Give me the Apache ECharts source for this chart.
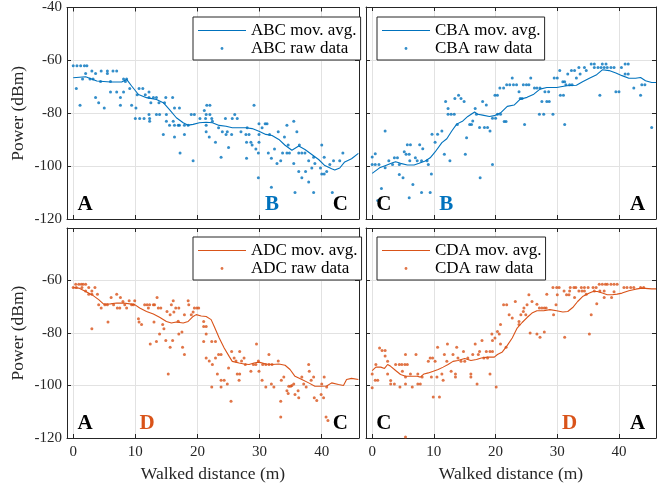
<!DOCTYPE html>
<html>
<head>
<meta charset="utf-8">
<script src="https://cdn.jsdelivr.net/npm/echarts@6/dist/echarts.min.js"></script>
<style>html,body{margin:0;padding:0;background:#fff}#c{width:657px;height:493px}</style>
</head>
<body>
<div id="c"></div>
<script>
// ---------- data ----------
const xTicks = [0, 10, 20, 30, 40];
const yTicks = [-120, -100, -80, -60, -40];

const abcAvg = [[0,-66.6],[2,-66.2],[3.8,-67.8],[6,-68.2],[7.8,-68.2],[8.6,-67.2],[9.4,-69.7],[10.5,-72.9],[11.8,-74.1],[13.4,-74.8],[14.5,-76],[15.5,-78.6],[16.6,-81.7],[17.7,-83.6],[18.5,-84.5],[19.3,-84.2],[20.3,-83.6],[21.4,-83.4],[22.4,-83.6],[23.5,-84.6],[24.6,-84.9],[25.6,-85.5],[26.7,-85.5],[27.8,-85.5],[28.8,-85.8],[29.9,-86.8],[31,-88],[32,-88.4],[33.1,-89.9],[34.1,-92.1],[35.2,-94],[36.3,-92.4],[37.3,-93.7],[38.4,-95.6],[39.5,-97.5],[40.5,-99.8],[41.6,-101],[42.1,-101.5],[42.9,-100.7],[43.7,-98.4],[44.8,-97.2],[45.9,-95.2]];
const abcRaw = [[0,-62],[0.6,-62],[1.2,-62],[1.8,-62],[2.2,-62],[0.5,-70.6],[1.1,-77],[1.5,-67],[2,-65],[2.7,-67],[3,-64],[3.2,-67],[3.6,-65],[3.6,-74],[4.1,-76],[4.4,-68],[4.5,-64],[5,-78],[5.5,-64],[5.5,-65],[6,-68],[6,-72],[6.4,-64],[7,-64],[7,-72],[7.6,-74],[7.6,-77],[8.1,-72],[8.1,-67],[8.4,-68],[8.6,-67],[9.1,-70.6],[9.4,-77],[10,-82],[10.1,-78],[10.3,-73],[10.6,-70.6],[10.7,-82],[11.2,-70.6],[11.4,-82],[11.6,-73],[12.2,-72],[12.3,-82],[12.2,-80.5],[12.3,-83],[12.2,-74],[12.5,-76],[12.9,-74],[13.4,-74],[13.4,-80.5],[13.9,-80.5],[13.8,-76],[14.5,-88],[14.9,-74],[14.7,-76],[15,-80.5],[15,-83],[15.5,-84.5],[16,-74],[16.1,-83],[16.3,-78],[16.3,-84.5],[16.3,-89],[16.9,-84.5],[17.1,-78],[17.2,-95],[17.1,-84.5],[17.9,-84.5],[17.9,-88],[18.5,-84.5],[19,-80.5],[19.3,-98],[19.5,-80.5],[20.4,-82],[21.1,-79],[21.4,-80.5],[21.3,-82],[21.4,-84.5],[21.4,-87],[21.5,-77],[21.9,-89],[22,-77],[22,-80.5],[22.3,-82],[22.4,-83],[22.9,-91],[23.4,-85.5],[23.8,-96.6],[24,-87],[24.5,-82],[24.6,-88],[24.8,-87],[25,-93],[25.5,-88],[25.6,-82],[26,-80.5],[26.4,-82],[27,-87],[27.8,-88],[28,-85.5],[27.9,-91],[27.9,-97],[28.3,-88],[28.6,-91],[29.1,-77],[28.8,-92],[29.4,-93.5],[29.8,-95],[29.8,-104.4],[29.9,-84],[29.9,-88],[29.9,-91],[30.4,-85.5],[30.9,-84],[31.2,-84],[31.6,-88],[31.4,-95],[31.9,-97],[31.9,-108],[32.4,-93.5],[32.8,-99],[33,-87],[33.4,-98],[34,-89],[33.7,-95],[34.4,-84.5],[34.4,-95],[34.6,-92],[34.8,-95],[35.5,-83],[35.5,-99],[35.7,-110],[36,-87],[36.3,-95],[36.4,-92],[36.3,-102],[36.8,-95],[36.8,-104.4],[37.3,-95],[37.4,-102],[37.9,-106],[37.9,-98],[38.7,-96.6],[38.7,-110],[38.4,-100.7],[38.9,-99],[40,-92],[39.8,-100.7],[40,-103],[40.4,-96.6],[40.4,-103],[40.8,-102],[41.3,-99.4],[41.7,-110],[41.9,-98],[42.9,-98],[43.4,-95]];

const cbaAvg = [[0,-102.8],[1.2,-100.7],[2.2,-99.8],[3.3,-98.8],[3.8,-98.4],[4.6,-99],[5.7,-99.6],[6.8,-99.6],[7.6,-99],[8.6,-98.1],[9.4,-96.9],[10.2,-94.7],[11.3,-91.2],[12.1,-89.7],[12.9,-86.8],[13.7,-84.2],[14.7,-83],[15.5,-81.3],[16.6,-79.6],[17.1,-80.5],[17.9,-80.8],[19,-81.3],[19.8,-81],[20.9,-79.8],[21.9,-77.5],[23,-77],[24,-74.8],[25.1,-74.1],[26.2,-72.9],[27.2,-71],[28.3,-70.4],[29.9,-70.4],[31.5,-69.7],[33.1,-69.5],[34.1,-68.2],[35.2,-66.9],[36.3,-65.7],[37.3,-63.7],[38.4,-64],[39.5,-64.9],[40.5,-65.9],[41.6,-66.9],[42.7,-66.9],[43.5,-66.6],[44.3,-67.8],[45.3,-68.5],[46,-68.5]];
const cbaRaw = [[0,-96.6],[0.5,-95.4],[0,-99.4],[0.5,-99.4],[1.1,-99.4],[0.9,-113],[1.5,-108.5],[2.1,-86.8],[2.1,-100.7],[2.7,-98],[3.3,-99.4],[3.6,-96.9],[4.1,-96.9],[4.4,-99.4],[4.4,-103.2],[5,-104.4],[5.2,-94.6],[5.5,-95.6],[5.7,-92],[6,-95.6],[6.2,-92],[6,-112],[6.1,-98],[6.6,-107],[7,-96.9],[7.3,-98],[7.7,-92],[8,-110],[8,-98],[8.2,-93.5],[8.9,-98],[9.1,-99.4],[9.4,-110],[9.6,-103],[9.7,-88],[10.2,-91],[10.6,-88],[11.3,-86.8],[11.7,-95.6],[11.9,-75.7],[12.3,-78.3],[12.3,-80.5],[12.6,-98],[12.8,-80.5],[13.3,-80.5],[13.4,-74.5],[13.8,-84.3],[14,-73.3],[14.4,-74.5],[14.9,-75.7],[15.1,-95.6],[15.3,-89.3],[15.8,-84.3],[16.1,-84.3],[16.3,-83],[16.7,-78.3],[16.9,-80.5],[17.5,-104.4],[17.4,-85.5],[17.9,-75.7],[18.2,-85.5],[18.5,-77],[18.7,-85.5],[19.1,-86.8],[19.5,-82],[19.5,-99.4],[19.9,-73.3],[20,-82],[20.3,-73.3],[20.3,-80.5],[20.8,-80.5],[20.7,-70.6],[21.3,-70.6],[21.4,-83.2],[21.7,-83.2],[21.8,-69.3],[22.3,-69.3],[22.7,-66.8],[22.9,-69.3],[23.4,-69.3],[23.8,-72],[24,-74.5],[24.3,-74.5],[24.5,-69.3],[24.7,-84.3],[25,-69.3],[25.4,-69.3],[25.7,-66.8],[26.3,-70.6],[26.7,-70.6],[27.2,-70.6],[27.1,-80.5],[27.5,-75.7],[27.8,-80.5],[28.3,-75.7],[28,-72],[28.6,-72],[28.7,-75.7],[29.3,-80.5],[29.5,-66.8],[30,-66.8],[30.4,-64],[30.5,-73.3],[30.9,-68.2],[31,-73.3],[31.2,-84.3],[31.2,-68.2],[31.4,-69.3],[31.7,-65.3],[32,-69.3],[32.3,-64],[32.4,-69.3],[32.8,-64],[33.1,-66.8],[33.5,-62.8],[33.7,-65.3],[34.4,-62.8],[34.7,-64],[35.5,-61.5],[36,-61.5],[36,-62.8],[36.6,-62.8],[36.9,-73.3],[37.1,-62.8],[37.3,-61.5],[37.6,-62.8],[37.9,-61.5],[38.1,-62.8],[38.7,-62.8],[39.2,-62.8],[39.5,-72],[40,-72],[40.4,-62.8],[41,-61.5],[41,-65.3],[41.5,-61.5],[41.5,-65.3],[42.4,-70.6],[43.5,-73.3],[43.7,-69.3],[44.2,-69.3],[45.3,-85.5]];

const adcAvg = [[0,-62.7],[0.9,-62.9],[2,-64.2],[3,-65.4],[4.1,-67.3],[4.9,-69],[6,-68.9],[7,-68.6],[8.1,-68.6],[9.1,-68.9],[9.9,-69.2],[10.7,-70.5],[11.8,-71.8],[12.9,-72.8],[13.9,-74],[15,-75.6],[15.8,-76.2],[16.6,-75.8],[17.7,-76.2],[18.5,-75.6],[19.3,-73.7],[19.8,-73],[20.6,-73.5],[21.4,-73.7],[22.2,-74.9],[22.7,-77.5],[23.5,-81.9],[24.3,-85.7],[25.1,-88.9],[25.6,-90.8],[26.7,-91.4],[27.5,-91.8],[28.3,-92],[29.1,-91.4],[29.9,-91.1],[31,-91.8],[32,-92],[33.1,-91.8],[34.1,-92.3],[34.9,-93.9],[35.7,-96.5],[36.8,-97.7],[37.9,-99],[38.9,-100.3],[40,-100.3],[40.8,-100.2],[41.6,-99],[42.7,-99.6],[43.5,-100],[44,-97.7],[44.8,-97.3],[45.9,-97.7]];
const adcRaw = [[0,-62.7],[0.4,-61.4],[0.9,-61.4],[1.3,-61.4],[1.6,-61.4],[2,-61.4],[0.5,-62.7],[1.4,-62.7],[2,-64],[2.5,-65.2],[2.5,-62.7],[3,-64],[3,-65.2],[3,-78.4],[3.5,-62.7],[3.9,-65.2],[4.1,-69.2],[4.5,-70.5],[5.1,-69.2],[5.5,-69.2],[5.6,-75.8],[6.1,-66.5],[6.5,-69.2],[7,-65.2],[7.1,-70.5],[7.5,-70.5],[7.6,-66.5],[8,-68],[8.3,-69.2],[8.6,-70.5],[9,-67.7],[9.4,-69.2],[9.7,-69.2],[9.9,-67.7],[10.5,-74.6],[10.6,-75.8],[11,-76.8],[11.5,-69.2],[11.9,-69.2],[12.3,-69.2],[12.1,-70.5],[12.4,-84.2],[12.9,-69.2],[13,-75.8],[13.1,-69.2],[13.4,-83.2],[13.5,-66.5],[13.7,-70.5],[14.1,-70.5],[13.9,-80.4],[14.4,-76.8],[14.6,-78.4],[14.9,-82.9],[15.1,-71.8],[15.3,-95.6],[15.6,-85.4],[15.6,-73],[15.8,-69.2],[16,-82.9],[16.1,-67.7],[16.2,-72],[16.5,-70.5],[17,-70.5],[16.9,-75.5],[17,-80.4],[17.5,-79.6],[17.6,-85.4],[17.9,-73],[17.9,-88.2],[18.5,-67.7],[18.6,-69.2],[19,-73],[19.3,-72],[19.5,-70.5],[19.9,-70.5],[20.2,-70.5],[21,-75.6],[21,-77.5],[21.4,-77.5],[21,-83.2],[21.4,-80.4],[21.4,-89.5],[21.9,-90.7],[22.3,-83.2],[22.9,-83.2],[22.4,-92],[22.3,-100.6],[22.9,-89.5],[23.4,-88.2],[23.8,-88.2],[23.2,-95.6],[23.8,-98],[24.3,-98],[23.8,-100.6],[24.8,-99.4],[25,-93.3],[25.4,-106],[25.5,-87],[25.9,-89.5],[26.2,-90.7],[26.4,-95.6],[26.8,-95.6],[26.7,-98],[26.8,-87],[27.1,-90.7],[27.5,-89.5],[27.7,-92],[28.6,-94.6],[29,-92],[29.4,-92],[29.5,-84.2],[29.8,-90.7],[29.9,-94.6],[30.4,-98],[30.5,-92],[31,-92],[31,-100.6],[31.5,-92],[31.5,-88.2],[31.9,-99.4],[32,-92],[32.3,-100.6],[33,-90.7],[33.4,-106],[33.4,-112],[33.5,-98],[33.9,-96.8],[34.4,-102],[34.6,-103],[34.7,-100.3],[35,-100.3],[35.2,-100],[35.5,-99.4],[35.7,-103.4],[36.2,-102],[36.3,-104.7],[36.8,-96.8],[37.1,-99.4],[37.5,-100.6],[37.9,-92],[38,-94.6],[38.3,-98],[38.7,-96.8],[38.8,-104.7],[39.2,-105.7],[39.9,-103.4],[40,-99.4],[40.3,-104.7],[40.4,-96.8],[40.7,-112],[41,-113.3],[40.8,-100.6]];

const cdaAvg = [[0,-94.3],[0.6,-93],[1.4,-93],[2,-93.5],[2.5,-92],[3,-92.7],[3.8,-94.3],[4.6,-95.8],[5.4,-96.5],[6.5,-96.5],[7.3,-96.5],[7.8,-96.8],[8.4,-95.6],[9.1,-95.2],[9.9,-94.6],[10.7,-93.9],[11.5,-93],[12.3,-92],[13.1,-90.8],[13.9,-90.5],[15,-89.7],[16,-90.5],[16.9,-90.1],[17.7,-89.5],[18.7,-89.2],[19.8,-89.2],[20.3,-88.2],[21.1,-87.2],[21.9,-84.7],[22.7,-81.9],[23.5,-78.1],[24.3,-76],[25.1,-74.1],[25.9,-72.4],[26.7,-71.5],[27.8,-71.5],[28.8,-71.1],[29.9,-71.5],[30.9,-72],[31.7,-71.8],[32.5,-70.3],[33.3,-68],[34.1,-66.1],[35.2,-64.8],[35.8,-64.2],[36.5,-64.2],[37.3,-64.8],[38.1,-65.4],[38.9,-65.4],[39.7,-65.2],[40.5,-64.8],[41.6,-63.9],[42.7,-63.3],[43.7,-62.9],[45.3,-63.2],[46,-63.2]];
const cdaRaw = [[0,-95.6],[0,-100.9],[0.5,-98],[0.9,-98],[0.6,-92],[1.2,-85.7],[1.6,-86.7],[2.1,-86.7],[2.1,-88.8],[2.5,-90.8],[2.5,-95.6],[3,-98.1],[3,-99.4],[3.6,-99.4],[3.8,-92],[4.4,-92],[4.8,-92],[5.3,-92],[5.7,-92],[4.5,-100.6],[4.9,-94.6],[5.4,-96.8],[5.4,-88.2],[5.4,-99.4],[5.4,-119.6],[6.2,-95.6],[6.5,-100.6],[7.1,-88.2],[7.4,-99.4],[7.8,-99.4],[7.4,-95.6],[8.1,-96.8],[9.1,-90.8],[9.4,-89.5],[9.8,-89.5],[9.6,-96.8],[9.9,-104.4],[10.9,-104.4],[10.2,-90.8],[10.5,-96.8],[10.6,-85.4],[11.3,-95.6],[11.5,-98],[11.7,-88.2],[12.1,-90.8],[12.2,-84.2],[12.8,-94.6],[13.1,-88.2],[13.5,-95.6],[13.5,-96.8],[13.7,-85.4],[13.9,-89.5],[14.4,-90.8],[14.8,-87],[15,-90.8],[15.5,-89.5],[16,-95.6],[16,-96.8],[16.3,-88.2],[16.7,-84.2],[17,-99.4],[17.2,-88.2],[17.4,-87],[17.8,-82.9],[18.1,-89.5],[18.5,-87],[18.7,-89.5],[19.1,-87],[19.1,-95.6],[19.5,-87],[19.5,-82.9],[19.4,-80.4],[20.1,-100.6],[19.9,-81.9],[20.3,-79.4],[20.6,-80.4],[20.8,-84.2],[20.8,-76.8],[21.3,-69.2],[21.8,-69.2],[21.7,-85.4],[22.2,-73],[22.7,-74.3],[23.2,-68],[23.8,-75.6],[23.8,-76.8],[24.1,-73],[24.5,-71.8],[24.6,-70.5],[24.9,-73],[25.1,-69.2],[25.4,-65.4],[25.6,-80],[25.9,-68],[26.7,-80.4],[26.7,-69],[27.1,-70.5],[27.5,-70.5],[27.9,-70.5],[28.2,-70.5],[27.2,-81.6],[27.9,-79.6],[28.3,-65.2],[29.3,-62.7],[29.4,-73],[29.8,-69.2],[29.9,-62.7],[30.3,-62.7],[30,-65.4],[31.1,-64],[31.2,-81.6],[31.5,-65.4],[31.9,-65.4],[32,-64],[32.1,-62.7],[32.7,-62.7],[33,-62.7],[32.8,-66.5],[33.5,-64],[34,-64],[34.4,-64],[33.9,-62.7],[34.4,-62.7],[34.7,-65.2],[35.2,-80.4],[35.5,-73],[35,-62.7],[35.8,-62.7],[36.3,-62.7],[36,-64],[36.4,-68.9],[36.8,-61.4],[37.3,-61.4],[37.8,-61.4],[38.1,-61.4],[38.7,-61.4],[39.2,-61.4],[39.7,-61.4],[36.9,-64],[37.6,-64],[37.6,-66.5],[38.8,-66.5],[39.2,-64.3],[40.8,-62.7],[41.3,-62.7],[41.9,-62.7],[42.4,-62.7],[43.5,-62.7],[44,-62.7]];

// letters placed along the walk (label, distance)
const lettersABC = [['A', 1.9], ['B', 32], ['C', 43]];
const lettersCBA = [['C', 1.9], ['B', 12], ['A', 43]];
const lettersADC = [['A', 1.9], ['D', 11.9], ['C', 43]];
const lettersCDA = [['C', 1.9], ['D', 32], ['A', 43]];
const letterY = -114.5;

// ---------- style ----------
const BLUE = '#0072BD', ORANGE = '#D95319', INK = '#262626', GRIDC = '#e2e2e2';
const FONT = 'Liberation Serif';
const X_MIN = -1, X_MAX = 46, Y_MIN = -120, Y_MAX = -40;

const grids = [
  {left: 67, top: 7, width: 292, height: 212},
  {left: 366, top: 7, width: 290, height: 212},
  {left: 67, top: 228, width: 292, height: 210},
  {left: 366, top: 228, width: 290, height: 210}
];

const xAxis = [], yAxis = [];
grids.forEach((g, i) => {
  const bottomRow = i >= 2, leftCol = (i % 2 === 0);
  xAxis.push({
    gridIndex: i, type: 'value', min: X_MIN, max: X_MAX, position: 'bottom',
    axisLine: {show: true, onZero: false, lineStyle: {color: INK, width: 1}},
    axisTick: {show: true, inside: true, length: 4, lineStyle: {color: INK}},
    axisLabel: {show: bottomRow, showMinLabel: false, showMaxLabel: false, color: INK,
      fontFamily: FONT, fontSize: 15, margin: 7,
      formatter: v => xTicks.includes(v) ? String(v) : ''},
    splitLine: {show: true, lineStyle: {color: GRIDC, width: 1}},
    name: bottomRow ? 'Walked distance (m)' : '', nameLocation: 'middle', nameGap: 27,
    nameTextStyle: {color: INK, fontFamily: FONT, fontSize: 17.5}
  });
  xAxis.push({
    gridIndex: i, type: 'value', min: X_MIN, max: X_MAX, position: 'top',
    axisLine: {show: true, onZero: false, lineStyle: {color: INK, width: 1}},
    axisTick: {show: true, inside: true, length: 4, lineStyle: {color: INK}},
    axisLabel: {show: false}, splitLine: {show: false}
  });
  yAxis.push({
    gridIndex: i, type: 'value', min: Y_MIN, max: Y_MAX, interval: 20, position: 'left',
    axisLine: {show: true, onZero: false, lineStyle: {color: INK, width: 1}},
    axisTick: {show: true, inside: true, length: 4, lineStyle: {color: INK}},
    axisLabel: {show: leftCol, showMaxLabel: !bottomRow, color: INK, fontFamily: FONT, fontSize: 15, margin: 5,
      formatter: v => yTicks.includes(v) ? String(v) : ''},
    splitLine: {show: true, lineStyle: {color: GRIDC, width: 1}},
    name: leftCol ? 'Power (dBm)' : '', nameLocation: 'middle', nameGap: 40, nameRotate: 90,
    nameTextStyle: {color: INK, fontFamily: FONT, fontSize: 17.5}
  });
  yAxis.push({
    gridIndex: i, type: 'value', min: Y_MIN, max: Y_MAX, interval: 20, position: 'right',
    axisLine: {show: true, onZero: false, lineStyle: {color: INK, width: 1}},
    axisTick: {show: true, inside: true, length: 4, lineStyle: {color: INK}},
    axisLabel: {show: false}, splitLine: {show: false}
  });
});

const panels = [
  {tag: 'ABC', avg: abcAvg, raw: abcRaw, color: BLUE, letters: lettersABC},
  {tag: 'CBA', avg: cbaAvg, raw: cbaRaw, color: BLUE, letters: lettersCBA},
  {tag: 'ADC', avg: adcAvg, raw: adcRaw, color: ORANGE, letters: lettersADC},
  {tag: 'CDA', avg: cdaAvg, raw: cdaRaw, color: ORANGE, letters: lettersCDA}
];

const letterColor = (l, c) => (l === 'A' || l === 'C') ? '#000' : c;

const series = [];
const legends = [];
const legendPos = [[193, 17], [377, 17], [193, 237], [377, 237]];
const DOT_ICON = 'path://M0,0M48,14M22.6,7a1.4,1.4 0 1,0 2.8,0a1.4,1.4 0 1,0 -2.8,0z';
const LINE_ICON = 'path://M0,0M48,14M0,6.5h48v1.1h-48z';

panels.forEach((p, i) => {
  series.push({
    name: p.tag + ' raw data', type: 'scatter', xAxisIndex: 2 * i, yAxisIndex: 2 * i,
    data: p.raw, symbol: 'circle', symbolSize: 3,
    itemStyle: {color: p.color}, silent: true, animation: false, z: 2
  });
  series.push({
    name: p.tag + ' mov. avg.', type: 'line', xAxisIndex: 2 * i, yAxisIndex: 2 * i,
    data: p.avg, showSymbol: false, symbol: 'none', smooth: false,
    lineStyle: {color: p.color, width: 1.1}, itemStyle: {color: p.color},
    silent: true, animation: false, z: 3,
    markPoint: {
      symbol: 'circle', symbolSize: 0, animation: false, silent: true,
      data: p.letters.map(([l, x]) => ({
        coord: [x, letterY], value: l,
        label: {show: true, position: 'inside', formatter: l, color: letterColor(l, p.color),
          fontFamily: FONT, fontWeight: 'bold', fontSize: 21}
      }))
    }
  });
  const iconStyle = {color: p.color, borderWidth: 0, borderColor: p.color};
  legends.push({
    show: true, orient: 'vertical', left: legendPos[i][0], top: legendPos[i][1],
    itemWidth: 48, itemHeight: 14, itemGap: 1, padding: [5, 4, 3, 5],
    borderColor: INK, borderWidth: 1, backgroundColor: '#fff', borderRadius: 0,
    textStyle: {color: '#000', fontFamily: FONT, fontSize: 17, lineHeight: 14},
    selectedMode: false,
    data: [
      {name: p.tag + ' mov. avg.', icon: LINE_ICON, itemStyle: iconStyle},
      {name: p.tag + ' raw data', icon: DOT_ICON, itemStyle: iconStyle}
    ]
  });
});

const chart = echarts.init(document.getElementById('c'), null, {renderer: 'canvas'});
chart.setOption({
  backgroundColor: '#fff',
  animation: false,
  grid: grids,
  xAxis: xAxis,
  yAxis: yAxis,
  legend: legends,
  series: series
});
</script>
</body>
</html>
